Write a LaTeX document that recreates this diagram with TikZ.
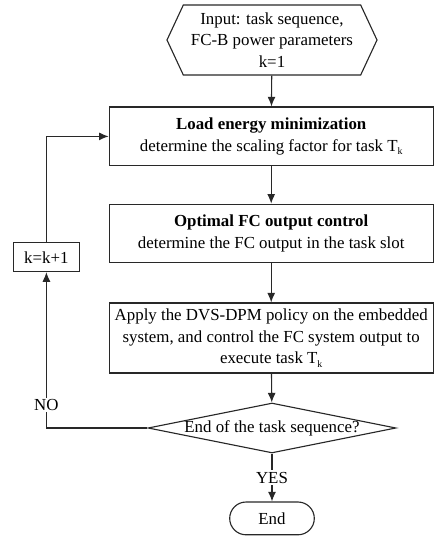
\documentclass[tikz,border=0pt]{standalone}
\usepackage{fontspec}
\setmainfont{Liberation Serif}
\usepackage{xcolor}
\definecolor{flowline}{RGB}{40,40,40}
\usetikzlibrary{arrows.meta,positioning,shapes.geometric,shapes.symbols,shapes.misc}
\newcommand{\Tk}{T\raisebox{-0.45ex}{\fontsize{7}{7}\selectfont k}}

\begin{document}
\begin{tikzpicture}[font=\fontsize{12}{15.5}\selectfont,
  every node/.style={text=black},
  procbox/.style={draw=flowline,line width=0.8pt,rectangle,minimum width=8.1cm,align=center,inner sep=2pt},
  ioshape/.style={draw=flowline,line width=0.8pt,shape=signal,signal to=west and east,signal pointer angle=130,minimum width=5.25cm,minimum height=1.75cm,align=center,inner sep=1pt},
  decshape/.style={draw=flowline,line width=0.8pt,diamond,aspect=4.94,minimum width=6.2cm,minimum height=1.25cm,inner sep=0pt},
  termshape/.style={draw=flowline,line width=0.8pt,rounded rectangle,minimum width=2.35cm,minimum height=0.82cm},
  flow/.style={draw=flowline,line width=0.8pt,-{Latex[length=2.4mm,width=2mm]}}]
  \useasboundingbox (0,0) rectangle (10.95,-13.425);
  \node[ioshape] (inp) at (6.8,-1.0) {Input: task sequence,\\FC-B power parameters\\k=1};
  \node[procbox,minimum height=1.47cm] (lem) at (6.78,-3.41) {\textbf{Load energy minimization}\\determine the scaling factor for task \Tk};
  \node[procbox,minimum height=1.45cm] (fco) at (6.78,-5.83) {\textbf{Optimal FC output control}\\determine the FC output in the task slot};
  \node[procbox,minimum height=1.75cm] (dvs) at (6.78,-8.45) {Apply the DVS-DPM policy on the embedded\\system, and control the FC system output to\\execute task \Tk};
  \node[decshape] (dec) at (6.8,-10.7) {\makebox[3cm]{End of the task sequence?}};
  \node[termshape] (stop) at (6.8,-12.96) {End};
  \node[draw=flowline,line width=0.8pt,minimum width=1.65cm,minimum height=0.72cm,inner sep=1pt] (kinc) at (1.16,-6.43) {k=k+1};
  \foreach \a/\b in {inp/lem,lem/fco,fco/dvs,dvs/dec} {\draw[flow] (\a)--(\b);}
  \draw[flow] (dec.south) -- node[fill=white,inner sep=1pt] {YES} (stop.north);
  \draw[flow] (dec.west) -- (dec.west -| kinc) -- node[pos=0.15,fill=white,inner sep=1pt] {NO} (kinc.south);
  \draw[flow] (kinc.north) |- (lem.west);
\end{tikzpicture}
\end{document}
